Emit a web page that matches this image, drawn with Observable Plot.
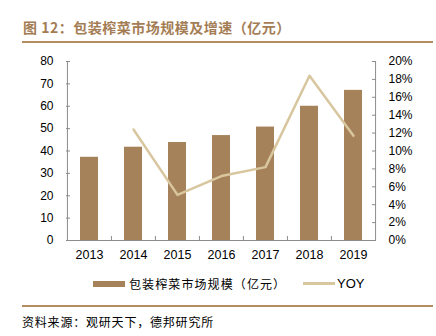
<!DOCTYPE html>
<html><head><meta charset="utf-8">
<script src="https://cdn.jsdelivr.net/npm/d3@7"></script>
<script src="https://cdn.jsdelivr.net/npm/@observablehq/plot@0.6"></script>
<style>
body{margin:0;background:#fff;}
#wrap{position:relative;width:436px;height:336px;overflow:hidden;font-family:"Noto Sans CJK SC",sans-serif;}
.title{position:absolute;left:23px;top:17px;font-size:14px;font-weight:bold;color:#a47d55;line-height:20px;white-space:nowrap;letter-spacing:0.5px;}
.hr{position:absolute;left:22px;width:411px;height:2px;background:#b48a5f;}
.lg{position:absolute;white-space:nowrap;line-height:16px;}
.cap{position:absolute;left:22px;top:314px;font-size:12px;line-height:16px;color:#000;white-space:nowrap;letter-spacing:0.8px;}
#chart svg{position:absolute;left:0;top:42px;}
</style></head>
<body><div id="wrap">
<div class="title">图 12：包装榨菜市场规模及增速（亿元）</div>
<div class="hr" style="top:41px"></div>
<div id="chart"></div>
<div style="position:absolute;left:93px;top:281px;width:32px;height:6px;background:#a6825a"></div>
<div class="lg" style="left:129px;top:276px;font-size:12px;letter-spacing:1.1px;">包装榨菜市场规模（亿元）</div>
<div style="position:absolute;left:303px;top:282px;width:32px;height:2.5px;background:#d8c69e"></div>
<div class="lg" style="left:337px;top:276px;font-size:13px;font-family:'Liberation Sans',Arial,sans-serif;">YOY</div>
<div class="hr" style="top:305px"></div>
<div class="cap">资料来源：观研天下，德邦研究所</div>
</div>
<script>
const years = ["2013","2014","2015","2016","2017","2018","2019"];
const market = [37.2, 41.7, 43.8, 46.9, 50.7, 60.0, 67.1];
const yoy = [null, 12.4, 5.1, 7.2, 8.2, 18.4, 11.7];
const leftTicks = [0,10,20,30,40,50,60,70,80];
const rightTicksPct = [0,2,4,6,8,10,12,14,16,18,20];

const W=436, H=230, ML=66, MR=61, MT=19, MB=32;
const bw = (W-ML-MR)/years.length;
const ratio = 80/20; // right axis (%) to left axis units
const axisColor = "#8c8c8c";
const data = years.map((y,i)=>({year:y, market:market[i], yoy:yoy[i]}));
const lineData = data.filter(d=>d.yoy!=null);

const svg = Plot.plot({
  width:W, height:H, marginLeft:ML, marginRight:MR, marginTop:MT, marginBottom:MB,
  style:{fontFamily:"'Liberation Sans', Arial, sans-serif", fontSize:"12px", color:"#000", background:"transparent", overflow:"visible"},
  x:{type:"band", domain:years, padding:0, label:null},
  y:{domain:[0,80], label:null},
  marks:[
    Plot.barY(data,{x:"year", y:"market", fill:"#a6825a", insetLeft:13, insetRight:13}),
    Plot.line(lineData,{x:"year", y:d=>d.yoy*ratio, stroke:"#d8c69e", strokeWidth:2.5}),
    Plot.ruleY([0],{stroke:axisColor}),
    Plot.ruleX([years[0]],{x:d=>d, dx:-bw/2, stroke:axisColor}),
    Plot.ruleX([years[years.length-1]],{x:d=>d, dx:bw/2, stroke:axisColor}),
    Plot.ruleX(years.slice(1),{x:d=>d, dx:-bw/2, stroke:axisColor, insetTop:(H-MT-MB)-4}),
    Plot.axisX({tickSize:0, tickPadding:10, label:null, fill:"#000", fontSize:12.5}),
    Plot.axisY({ticks:leftTicks, tickSize:0, tickPadding:13, label:null, fill:"#000"}),
    Plot.axisY({ticks:leftTicks, tickSize:4, dx:4, fill:"none", stroke:axisColor, label:null}),
    Plot.axisY({anchor:"right", ticks:rightTicksPct.map(p=>p*ratio), tickFormat:v=>(v/ratio)+"%", tickSize:0, tickPadding:13, label:null, fill:"#000"}),
    Plot.axisY({anchor:"right", ticks:rightTicksPct.map(p=>p*ratio), tickSize:4, dx:-4, fill:"none", stroke:axisColor, label:null})
  ]
});
document.getElementById("chart").appendChild(svg);
</script>
</body></html>
